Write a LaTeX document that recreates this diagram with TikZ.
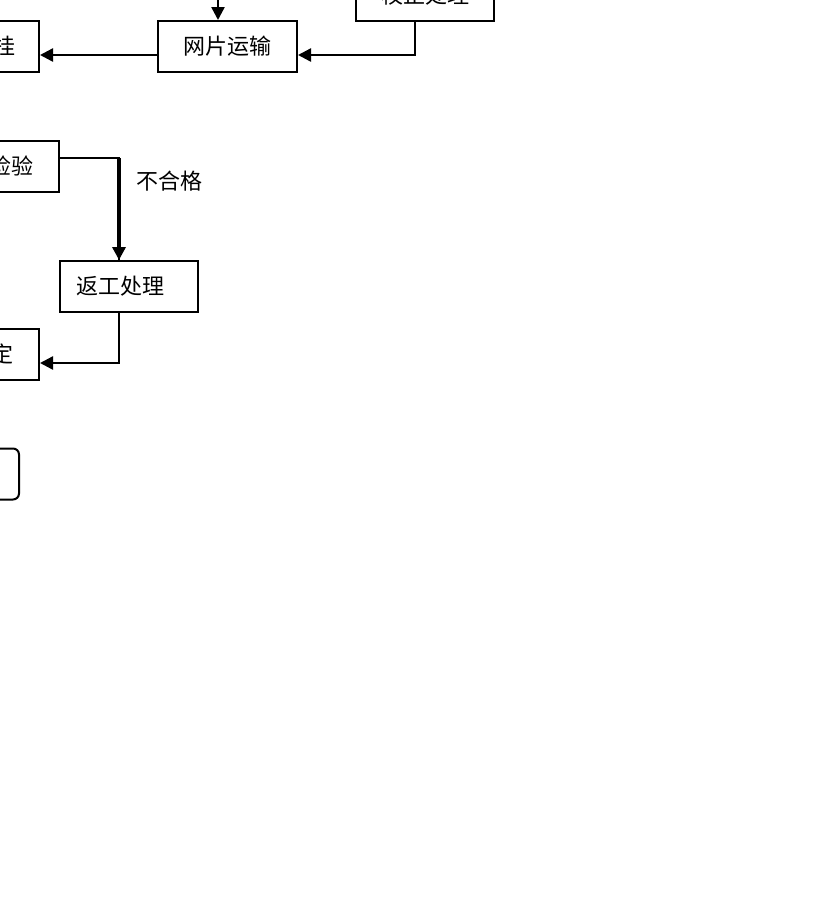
\documentclass[tikz,border=0pt]{standalone}
\usepackage{fontspec}
\setmainfont{Noto Sans CJK SC}
\usetikzlibrary{arrows.meta}
\begin{document}
\begin{tikzpicture}[x=1pt,y=-1pt,
  box/.style={draw=black,line width=2pt,minimum height=51pt,inner sep=0pt,
    font=\fontsize{22}{22}\selectfont},
  lbox/.style={box,anchor=east,align=right,inner xsep=24pt,text width=90pt},
  conn/.style={line width=2.4pt,-{Triangle[length=13pt,width=13pt]}},
  lbl/.style={font=\fontsize{22}{22}\selectfont,inner sep=0pt}]
\useasboundingbox (0,0) rectangle (828,922);
\clip (0,0) rectangle (828,922);
\fill[white] (0,0) rectangle (828,922);
% nodes
\node[box,minimum width=139pt] (wp) at (227.5,46.5) {网片运输};
\node[box,minimum width=138pt] (jz) at (425,-4.5) {校正处理};
\node[lbox,inner xsep=23pt] (gua) at (40,46.5) {挂};
\node[lbox,inner xsep=25pt] (jy) at (60,166.5) {检验};
\node[box,minimum width=138pt,text width=106pt,align=left,inner xsep=16pt] (fg) at (129,286.5) {返工处理};
\node[lbox,inner xsep=25pt] (ding) at (40,354.5) {定};
\node[draw=black,line width=2pt,rounded corners=6pt,minimum width=139pt,minimum height=51pt,anchor=east] (end) at (20,474) {};
\node[lbl] (bhg) at (169,181) {不合格};
\coordinate (topin) at (218,-12);
% connectors
\draw[conn] (topin) -- (topin |- wp.north);
\draw[conn] ([xshift=-10pt]jz.south) |- ([yshift=-8.5pt]wp.east);
\draw[conn] ([yshift=-8.5pt]wp.west) -- ([yshift=-8.5pt]gua.east);
\draw[line width=2pt] ([yshift=8.5pt]jy.east) -| ([xshift=-10pt]fg.north);
\draw[conn,line width=3.6pt] ([xshift=-10pt,yshift=8.5pt]jy.east -| fg.north) -- ([xshift=-10pt]fg.north);
\draw[conn] ([xshift=-10pt]fg.south) |- ([yshift=-8.5pt]ding.east);
\end{tikzpicture}
\end{document}
